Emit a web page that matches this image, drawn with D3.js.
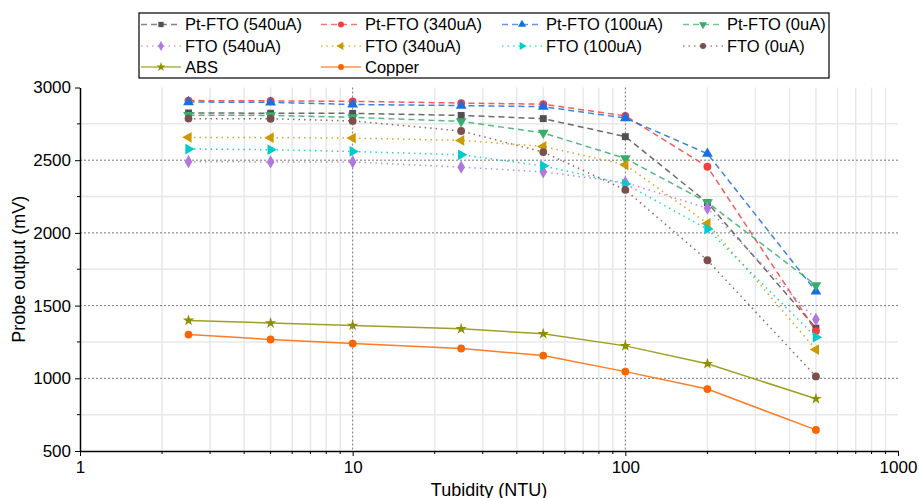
<!DOCTYPE html>
<html>
<head>
<meta charset="utf-8">
<script src="https://cdn.jsdelivr.net/npm/d3@7/dist/d3.min.js"></script>
<style>
  body { margin: 0; background: #fff; }
  svg { display: block; font-family: Arial, "Liberation Sans", sans-serif; }
</style>
</head>
<body>
<svg id="chart" width="919" height="498"></svg>
<script>
// turbidity levels (NTU)
const turbidity = [2.5, 5, 10, 25, 50, 100, 200, 500];

// probe output (mV) per sensor
const ptFto540 = [2825, 2823, 2822, 2808, 2786, 2662, 2208, 1345];
const ptFto340 = [2910, 2908, 2905, 2893, 2885, 2805, 2455, 1325];
const ptFto100 = [2900, 2898, 2883, 2876, 2868, 2790, 2545, 1598];
const ptFto0   = [2810, 2808, 2795, 2767, 2688, 2512, 2210, 1640];
const fto540   = [2490, 2488, 2488, 2452, 2420, 2346, 2170, 1405];
const fto340   = [2657, 2655, 2652, 2636, 2595, 2468, 2065, 1198];
const fto100   = [2577, 2572, 2560, 2537, 2461, 2337, 2026, 1283];
const fto0     = [2786, 2785, 2770, 2701, 2556, 2296, 1812, 1013];
const absVals  = [1398, 1380, 1363, 1340, 1306, 1223, 1100, 859];
const copper   = [1301, 1267, 1239, 1205, 1156, 1046, 926, 645];

const seriesNames = ['Pt-FTO (540uA)', 'Pt-FTO (340uA)', 'Pt-FTO (100uA)', 'Pt-FTO (0uA)',
                     'FTO (540uA)', 'FTO (340uA)', 'FTO (100uA)', 'FTO (0uA)',
                     'ABS', 'Copper'];
const seriesValues = [ptFto540, ptFto340, ptFto100, ptFto0, fto540, fto340, fto100, fto0, absVals, copper];

const xTicks = [1, 10, 100, 1000];
const yTicks = [500, 1000, 1500, 2000, 2500, 3000];

// styling for each series (Origin-like palette)
const colors = ['#515151', '#F14040', '#1A6FDF', '#37AD6B', '#B177DE', '#CC9900', '#00CBCC', '#7D4E4E', '#8E8E00', '#FB6501'];
const dashes = ['6,4', '6,4', '6,4', '6,4', '1.5,4', '1.5,4', '1.5,4', '1.5,4', null, null];
// [symbol type, rotation, size]
const markers = [
    [d3.symbolSquare, 0, 48],
    [d3.symbolCircle, 0, 48],
    [d3.symbolTriangle, 0, 50],
    [d3.symbolTriangle, 180, 50],
    [d3.symbolDiamond, 0, 50],
    [d3.symbolTriangle, -90, 50],
    [d3.symbolTriangle, 90, 50],
    [d3.symbolCircle, 0, 48],
    [d3.symbolStar, 0, 40],
    [d3.symbolCircle, 0, 48]
];

const W = 919, H = 498;
const margin = { top: 87.5, right: 21, bottom: 47, left: 80 };
const iw = W - margin.left - margin.right;
const ih = H - margin.top - margin.bottom;

const svg = d3.select('#chart');
const g = svg.append('g').attr('transform', `translate(${margin.left},${margin.top})`);

const x = d3.scaleLog().domain([1, 1000]).range([0, iw]);
const y = d3.scaleLinear().domain([500, 3000]).range([ih, 0]);

// minor positions
const xMinor = [];
[1, 10, 100].forEach(d => { for (let k = 2; k <= 9; k++) xMinor.push(d * k); });
const yMinor = d3.range(750, 3000, 500);

// minor grid
const grid = g.append('g');
grid.selectAll('.vmin').data(xMinor).enter().append('line')
    .attr('x1', d => x(d)).attr('x2', d => x(d))
    .attr('y1', 0).attr('y2', ih)
    .attr('stroke', '#e8e8e8').attr('stroke-width', 1.5);
grid.selectAll('.hmin').data(yMinor).enter().append('line')
    .attr('x1', 0).attr('x2', iw)
    .attr('y1', d => y(d)).attr('y2', d => y(d))
    .attr('stroke', '#e8e8e8').attr('stroke-width', 1.5);

// major grid (dotted)
grid.selectAll('.vmaj').data([10, 100]).enter().append('line')
    .attr('x1', d => x(d)).attr('x2', d => x(d))
    .attr('y1', 0).attr('y2', ih)
    .attr('stroke', '#777').attr('stroke-width', 1).attr('stroke-dasharray', '2,2');
grid.selectAll('.hmaj').data([1000, 1500, 2000, 2500]).enter().append('line')
    .attr('x1', 0).attr('x2', iw)
    .attr('y1', d => y(d)).attr('y2', d => y(d))
    .attr('stroke', '#777').attr('stroke-width', 1).attr('stroke-dasharray', '2,2');

// axes
const xAxis = g.append('g').attr('transform', `translate(0,${ih})`)
    .call(d3.axisBottom(x).tickValues(xTicks).tickFormat(d3.format('d')).tickSize(5).tickSizeOuter(0).tickPadding(5));
xAxis.selectAll('.minor').data(xMinor).enter().append('line')
    .attr('x1', d => x(d)).attr('x2', d => x(d))
    .attr('y1', 0).attr('y2', 3).attr('stroke', '#000');

const yAxis = g.append('g')
    .call(d3.axisLeft(y).tickValues(yTicks).tickFormat(d3.format('d')).tickSize(5).tickSizeOuter(0).tickPadding(4));
yAxis.selectAll('.minor').data(yMinor).enter().append('line')
    .attr('x1', -3).attr('x2', 0)
    .attr('y1', d => y(d)).attr('y2', d => y(d)).attr('stroke', '#000');

[xAxis, yAxis].forEach(a => {
    a.select('.domain').attr('stroke', '#000').attr('stroke-width', 1.5);
    a.selectAll('.tick line').attr('stroke', '#000');
    a.selectAll('.tick text').attr('font-size', 17).attr('fill', '#000')
        .attr('font-family', 'Arial, "Liberation Sans", sans-serif');
});

// axis titles
svg.append('text')
    .attr('x', margin.left + iw / 2).attr('y', 496)
    .attr('text-anchor', 'middle').attr('font-size', 18)
    .text('Tubidity (NTU)');
svg.append('text')
    .attr('transform', `translate(25,${margin.top + ih / 2}) rotate(-90)`)
    .attr('text-anchor', 'middle').attr('font-size', 18)
    .text('Probe output (mV)');

// series
const line = d3.line().x(d => x(d[0])).y(d => y(d[1]));

seriesValues.forEach((vals, i) => {
    const pts = turbidity.map((t, j) => [t, vals[j]]);
    g.append('path')
        .datum(pts)
        .attr('d', line)
        .attr('fill', 'none')
        .attr('stroke', colors[i])
        .attr('stroke-width', 1.5)
        .attr('stroke-opacity', 0.85)
        .attr('stroke-dasharray', dashes[i]);
    const [type, rot, size] = markers[i];
    const sym = d3.symbol().type(type).size(size);
    g.selectAll(null).data(pts).enter().append('path')
        .attr('d', sym)
        .attr('transform', d => `translate(${x(d[0])},${y(d[1])}) rotate(${rot})`)
        .attr('fill', colors[i]);
});

// legend
const legend = svg.append('g');
legend.append('rect')
    .attr('x', 139).attr('y', 13).attr('width', 690).attr('height', 65)
    .attr('fill', '#fff').attr('stroke', '#000').attr('stroke-width', 1.2);
const colX = [141, 321, 502, 683];
const rowY = [24.5, 46, 67];
seriesNames.forEach((name, i) => {
    const cx = colX[i % 4], cy = rowY[Math.floor(i / 4)];
    const it = legend.append('g').attr('transform', `translate(${cx},${cy})`);
    it.append('line')
        .attr('x1', 0).attr('x2', 40).attr('y1', 0).attr('y2', 0)
        .attr('stroke', colors[i]).attr('stroke-width', 1.5)
        .attr('stroke-opacity', 0.7)
        .attr('stroke-dasharray', dashes[i]);
    const [type, rot] = markers[i];
    it.append('path')
        .attr('d', d3.symbol().type(type).size(28))
        .attr('transform', `translate(20,0) rotate(${rot})`)
        .attr('fill', colors[i]);
    it.append('text')
        .attr('x', 44).attr('y', 0).attr('dy', '0.35em')
        .attr('font-size', 16.5)
        .text(name);
});
</script>
</body>
</html>
